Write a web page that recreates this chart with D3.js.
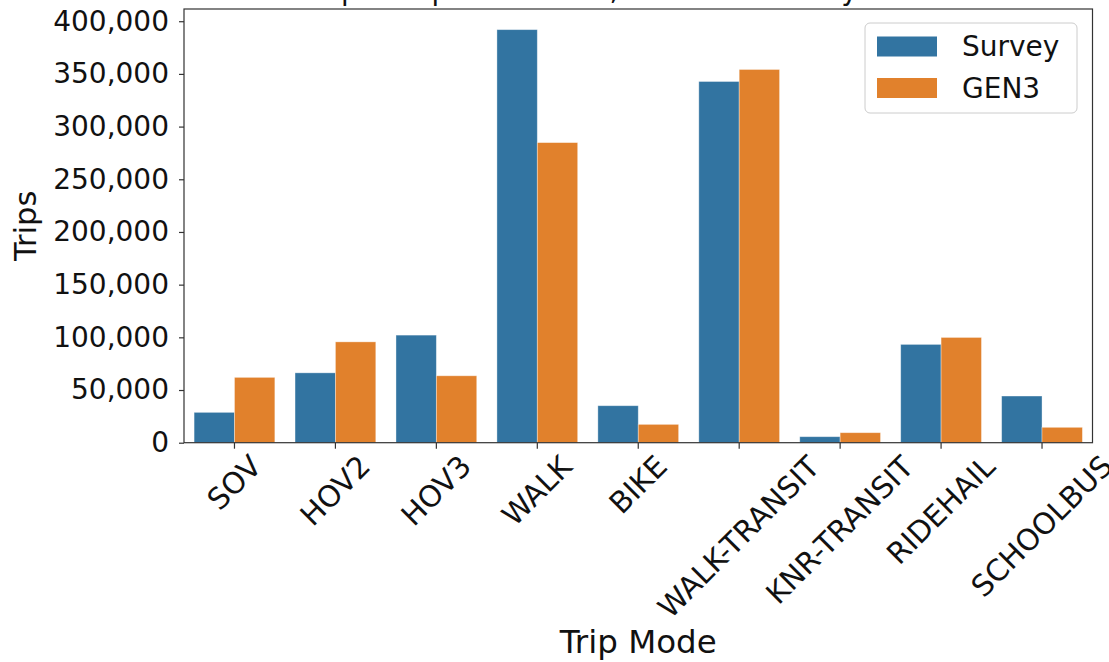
<!DOCTYPE html>
<html>
<head>
<meta charset="utf-8">
<script src="https://cdn.jsdelivr.net/npm/d3@7"></script>
<style>
  html, body { margin: 0; padding: 0; background: #fff; }
  svg { display: block; font-family: "DejaVu Sans", sans-serif; }
</style>
</head>
<body>
<svg id="chart" width="1109" height="662"></svg>
<script>
const categories = ["SOV", "HOV2", "HOV3", "WALK", "BIKE", "WALK-TRANSIT", "KNR-TRANSIT", "RIDEHAIL", "SCHOOLBUS"];
const seriesNames = ["Survey", "GEN3"];
const surveyValues = [28800, 66300, 102100, 392000, 35100, 342800, 5700, 93300, 44300];
const gen3Values = [62000, 95700, 63500, 284800, 17400, 354200, 9500, 99900, 14600];
const yTicks = [0, 50000, 100000, 150000, 200000, 250000, 300000, 350000, 400000];
const colors = ["#3274a1", "#e1812c"];
const titleText = "Trip Comparison Total, Model vs Survey Results";
const xLabel = "Trip Mode";
const yLabel = "Trips";

(function () {
const svg = d3.select("#chart");
const pL = 184, pR = 1092.5, pT = 9, pB = 442.7;

const x = d3.scaleBand().domain(categories).range([pL, pR]).paddingInner(0.2).paddingOuter(0.1);
const xSub = d3.scaleBand().domain(seriesNames).range([0, x.bandwidth()]);
const yMax = d3.max(surveyValues.concat(gen3Values)) * 1.05;
const y = d3.scaleLinear().domain([0, yMax]).range([pB, pT]);

const data = categories.map((c, i) => ({ cat: c, vals: [surveyValues[i], gen3Values[i]] }));

// bars
const gCat = svg.append("g").selectAll("g").data(data).join("g")
  .attr("transform", d => `translate(${x(d.cat)},0)`);
gCat.selectAll("rect").data(d => d.vals.map((v, j) => ({ v, s: seriesNames[j], j })))
  .join("rect")
  .attr("x", d => xSub(d.s))
  .attr("width", xSub.bandwidth())
  .attr("y", d => y(d.v))
  .attr("height", d => pB - y(d.v))
  .attr("fill", d => colors[d.j])
  .attr("stroke", "#ffffff")
  .attr("stroke-opacity", 0.45)
  .attr("stroke-width", 0.8);

// y axis
const yAxis = d3.axisLeft(y).tickValues(yTicks).tickSize(5).tickPadding(10)
  .tickFormat(d3.format(","));
const gy = svg.append("g").attr("transform", `translate(${pL},0)`).call(yAxis);
gy.select(".domain").remove();
gy.selectAll(".tick line").attr("stroke", "#333").attr("stroke-width", 1.2);
gy.selectAll(".tick text").attr("font-size", 28).attr("fill", "#111")
  .attr("font-family", "DejaVu Sans");

// x axis
const xAxis = d3.axisBottom(x).tickSize(6).tickFormat("");
const gx = svg.append("g").attr("transform", `translate(0,${pB})`).call(xAxis);
gx.select(".domain").remove();
gx.selectAll(".tick line").attr("stroke", "#333").attr("stroke-width", 1.2);

// rotated x tick labels (bbox centered on tick, top aligned)
const labelTop = 449;
categories.forEach(c => {
  const g = svg.append("g");
  g.append("text")
    .attr("transform", "rotate(-45)")
    .attr("font-size", 29.5)
    .attr("fill", "#111")
    .attr("font-family", "DejaVu Sans")
    .text(c);
  const bb = g.node().getBBox();
  const cx = x(c) + x.bandwidth() / 2;
  g.attr("transform", `translate(${cx - (bb.x + bb.width / 2)},${labelTop - bb.y})`);
});

// frame
svg.append("rect")
  .attr("x", pL).attr("y", pT)
  .attr("width", pR - pL).attr("height", pB - pT)
  .attr("fill", "none").attr("stroke", "#333").attr("stroke-width", 1.2);

// axis labels
svg.append("text")
  .attr("x", (pL + pR) / 2).attr("y", 653)
  .attr("text-anchor", "middle").attr("font-size", 32.5).attr("fill", "#111")
  .text(xLabel);
svg.append("text")
  .attr("transform", `translate(36,${(pT + pB) / 2}) rotate(-90)`)
  .attr("text-anchor", "middle").attr("font-size", 30.5).attr("fill", "#111")
  .text(yLabel);

// title (clipped at top like reference)
svg.append("text")
  .attr("x", (pL + pR) / 2).attr("y", 0)
  .attr("text-anchor", "middle").attr("font-size", 28).attr("fill", "#111")
  .text(titleText);

// legend
const lg = svg.append("g");
lg.append("rect")
  .attr("x", 865).attr("y", 23).attr("width", 212).attr("height", 90)
  .attr("rx", 5).attr("fill", "#fff").attr("fill-opacity", 0.8)
  .attr("stroke", "#cccccc").attr("stroke-width", 1);
seriesNames.forEach((s, i) => {
  lg.append("rect")
    .attr("x", 877).attr("y", 36.5 + i * 41.5)
    .attr("width", 60).attr("height", 20)
    .attr("fill", colors[i]);
  lg.append("text")
    .attr("x", 962).attr("y", 56 + i * 41.5)
    .attr("font-size", 28).attr("fill", "#111")
    .text(s);
});
})();
</script>
</body>
</html>
